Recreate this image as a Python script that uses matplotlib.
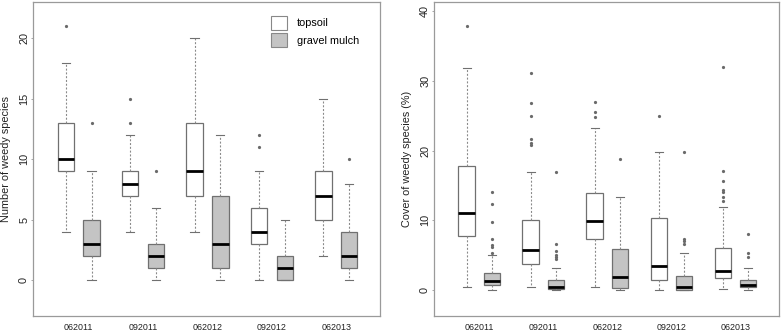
import matplotlib
matplotlib.use("Agg")
import matplotlib.pyplot as plt
from matplotlib.patches import Patch

plt.rcParams['font.family'] = ['Liberation Sans', 'DejaVu Sans']

categories = ["062011", "092011", "062012", "092012", "062013"]
groups = ["topsoil", "gravel mulch"]
fills = ["white", "#c4c4c4"]

# Number of weedy species: (whislo, q1, med, q3, whishi, outliers)
num_topsoil = [
    (4, 9, 10, 13, 18, [21]),
    (4, 7, 8, 9, 12, [13, 15]),
    (4, 7, 9, 13, 20, []),
    (0, 3, 4, 6, 9, [11, 12]),
    (2, 5, 7, 9, 15, []),
]
num_gravel = [
    (0, 2, 3, 5, 9, [13]),
    (0, 1, 2, 3, 6, [9]),
    (0, 1, 3, 7, 12, []),
    (0, 0, 1, 2, 5, []),
    (0, 1, 2, 4, 8, [10]),
]

# Cover of weedy species (%)
cov_topsoil = [
    (0.5, 7.7, 11.1, 17.8, 31.8, [37.8]),
    (0.5, 3.7, 5.8, 10.1, 16.9, [20.8, 21.1, 21.6, 25.0, 26.8, 31.1]),
    (0.5, 7.3, 9.9, 13.9, 23.3, [24.8, 25.6, 26.9]),
    (0.0, 1.4, 3.4, 10.4, 19.8, [25.0]),
    (0.1, 1.7, 2.8, 6.1, 11.9, [12.8, 13.4, 14.0, 14.3, 15.7, 17.1, 32.0]),
]
cov_gravel = [
    (0.0, 0.7, 1.3, 2.4, 5.0, [5.3, 6.2, 6.5, 7.3, 9.8, 12.4, 14.0]),
    (0.0, 0.1, 0.45, 1.4, 3.2, [4.5, 4.7, 5.0, 5.6, 6.6, 17.0]),
    (0.0, 0.25, 1.9, 5.9, 13.4, [18.8]),
    (0.0, 0.0, 0.45, 2.1, 5.4, [6.6, 7.1, 7.4, 19.8]),
    (0.0, 0.4, 0.8, 1.5, 3.2, [4.8, 5.3, 8.0]),
]

num_ticks = [0, 5, 10, 15, 20]
cov_ticks = [0, 10, 20, 30, 40]

W, H = 784, 333
fig = plt.figure(figsize=(W / 100, H / 100), dpi=100)
ax1 = fig.add_axes([33 / W, 1 - 316 / H, (380 - 33) / W, (316 - 2) / H])
ax2 = fig.add_axes([434 / W, 1 - 316 / H, (779 - 434) / W, (316 - 2) / H])

edge = "#707070"
spine_c = "#9a9a9a"
offset = 0.2
bw = 0.255


def stats_list(rows):
    out = []
    for lo, q1, med, q3, hi, fl in rows:
        out.append(dict(whislo=lo, q1=q1, med=med, q3=q3, whishi=hi, fliers=fl))
    return out


def draw(ax, series, ylabel, ticks, ylim):
    for k, rows in enumerate(series):
        pos = [i + (-offset if k == 0 else offset) for i in range(len(categories))]
        ax.bxp(stats_list(rows), positions=pos, widths=bw, capwidths=bw * 0.5,
               patch_artist=True, manage_ticks=False,
               boxprops=dict(facecolor=fills[k], edgecolor=edge, linewidth=0.9),
               medianprops=dict(color="black", linewidth=2.0),
               whiskerprops=dict(color="#8a8a8a", linewidth=0.8, linestyle=(0, (1.8, 1.6))),
               capprops=dict(color="#707070", linewidth=0.8),
               flierprops=dict(marker="o", markersize=1.3, markerfacecolor="#6a6a6a",
                               markeredgecolor="#6a6a6a", linestyle="none"))
    ax.set_xlim(-0.71, 4.68)
    ax.set_ylim(*ylim)
    ax.set_xticks(range(len(categories)))
    ax.set_xticklabels(categories, fontsize=6.4, color="#222222")
    ax.tick_params(axis="x", length=0, pad=5)
    ax.set_yticks(ticks)
    ax.set_yticklabels([str(t) for t in ticks], rotation=90, va="center",
                       fontsize=7.8, color="#222222")
    ax.tick_params(axis="y", length=1.3, width=0.6, color=spine_c, pad=1.5)
    for s in ax.spines.values():
        s.set_color(spine_c)
        s.set_linewidth(0.9)
    ax.set_ylabel(ylabel, fontsize=7.8, color="#222222", labelpad=6)


draw(ax1, [num_topsoil, num_gravel], "Number of weedy species", num_ticks, (-2.95, 23.0))
draw(ax2, [cov_topsoil, cov_gravel], "Cover of weedy species (%)", cov_ticks, (-3.7, 41.3))

handles = [Patch(facecolor=fills[0], edgecolor="#888888", linewidth=0.8),
           Patch(facecolor=fills[1], edgecolor="#888888", linewidth=0.8)]
ax1.legend(handles, groups, loc="upper left", bbox_to_anchor=(0.685, 0.955),
           frameon=False, fontsize=7.8, handlelength=1.55, handleheight=1.55,
           labelspacing=0.35, handletextpad=0.9, borderpad=0, borderaxespad=0)

fig.savefig("out.png", dpi=100)
